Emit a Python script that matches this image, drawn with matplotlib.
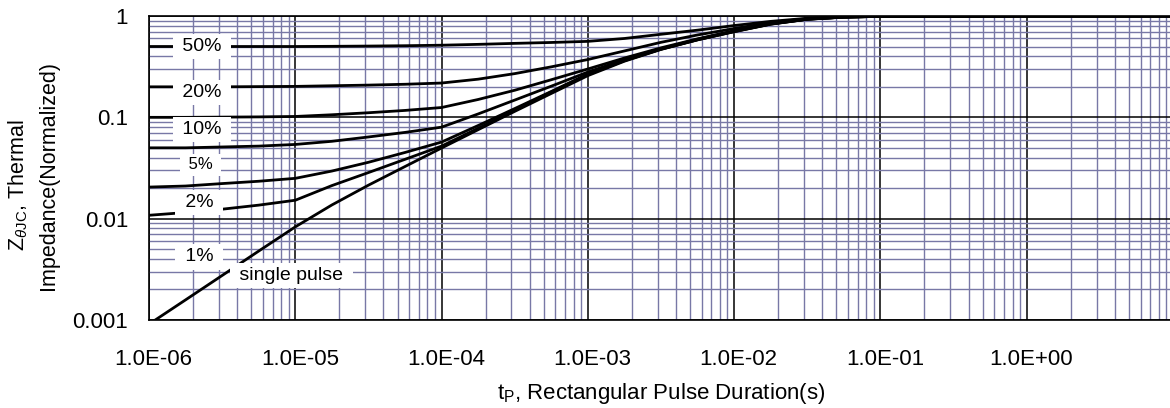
import numpy as np
import matplotlib
matplotlib.use("Agg")
import matplotlib.pyplot as plt
from matplotlib.ticker import LogLocator, FuncFormatter, FixedLocator, NullFormatter
from matplotlib.transforms import ScaledTranslation

plt.rcParams["font.family"] = ["Liberation Sans", "DejaVu Sans"]
plt.rcParams["mathtext.fontset"] = "custom"
plt.rcParams["mathtext.rm"] = "Liberation Sans"
plt.rcParams["mathtext.it"] = "Liberation Sans:italic"

# pulse duration, log10(s), read at quarter-decade steps
log_tp = [-6, -5.75, -5.5, -5.25, -5, -4.75, -4.5, -4.25, -4, -3.75, -3.5, -3.25,
          -3, -2.75, -2.5, -2.25, -2, -1.75, -1.5, -1.25, -1, 0, 1]

# normalized thermal impedance per duty cycle
z_50 = [0.500, 0.500, 0.500, 0.500, 0.500, 0.502, 0.505, 0.509, 0.515, 0.525, 0.537, 0.548,
        0.562, 0.600, 0.660, 0.725, 0.805, 0.885, 0.950, 0.985, 0.995, 1.0, 1.0]
z_20 = [0.200, 0.200, 0.200, 0.201, 0.202, 0.205, 0.208, 0.212, 0.218, 0.238, 0.270, 0.315,
        0.372, 0.452, 0.550, 0.650, 0.752, 0.862, 0.942, 0.982, 0.995, 1.0, 1.0]
z_10 = [0.100, 0.100, 0.1005, 0.101, 0.102, 0.106, 0.111, 0.117, 0.125, 0.150, 0.185, 0.235,
        0.300, 0.385, 0.485, 0.595, 0.715, 0.845, 0.935, 0.977, 0.992, 1.0, 1.0]
z_5 = [0.050, 0.050, 0.051, 0.052, 0.054, 0.058, 0.064, 0.071, 0.080, 0.108, 0.148, 0.203,
       0.280, 0.370, 0.475, 0.590, 0.710, 0.840, 0.932, 0.976, 0.992, 1.0, 1.0]
z_2 = [0.0205, 0.021, 0.0222, 0.0234, 0.0250, 0.0295, 0.036, 0.045, 0.057, 0.083, 0.122, 0.180,
       0.268, 0.365, 0.472, 0.585, 0.705, 0.835, 0.930, 0.975, 0.992, 1.0, 1.0]
z_1 = [0.0108, 0.0115, 0.0124, 0.0136, 0.0152, 0.0212, 0.0285, 0.0385, 0.052, 0.078, 0.118, 0.178,
       0.264, 0.362, 0.470, 0.582, 0.702, 0.832, 0.930, 0.975, 0.992, 1.0, 1.0]
z_single = [0.00091, 0.00158, 0.00275, 0.00479, 0.0083, 0.01365, 0.0214, 0.0327, 0.0498, 0.0755,
            0.1145, 0.172, 0.258, 0.358, 0.468, 0.582, 0.700, 0.830, 0.928, 0.975, 0.992, 1.0, 1.0]

curves = [z_50, z_20, z_10, z_5, z_2, z_1, z_single]
labels = ["50%", "20%", "10%", "5%", "2%", "1%", "single pulse"]
# label anchor (tp, Z)
label_pos = [(2.3e-6, 0.50), (2.3e-6, 0.175), (2.3e-6, 0.0762), (2.25e-6, 0.034),
             (2.2e-6, 0.0145), (2.2e-6, 0.0042), (9.4e-6, 0.00275)]

fig = plt.figure(figsize=(11.7, 4.08), dpi=100)
ax = fig.add_axes([149 / 1170, 88 / 408, 1024 / 1170, 304 / 408])

tp = 10.0 ** np.array(log_tp)
for z in curves:
    ax.plot(tp, z, color="black", lw=2.0, zorder=2)

for (x, y), txt in zip(label_pos, labels):
    size = 12 if txt == "5%" else 14
    ax.text(x, y, " " + txt + " ", fontsize=size, ha="center", va="center", zorder=4,
            bbox=dict(boxstyle="square,pad=0.22", fc="white", ec="none"))

ax.set_xscale("log")
ax.set_yscale("log")
ax.set_xlim(1e-6, 1e1)
ax.set_ylim(1e-3, 1)

ax.xaxis.set_major_locator(FixedLocator([1e-6, 1e-5, 1e-4, 1e-3, 1e-2, 1e-1, 1e0]))
ax.xaxis.set_minor_locator(LogLocator(base=10, subs=np.arange(2, 10), numticks=200))
ax.yaxis.set_major_locator(FixedLocator([1e-3, 1e-2, 1e-1, 1]))
ax.yaxis.set_minor_locator(LogLocator(base=10, subs=np.arange(2, 10), numticks=200))
ax.xaxis.set_major_formatter(FuncFormatter(lambda v, _: f"{v:.1E}"))
ax.yaxis.set_major_formatter(FuncFormatter(lambda v, _: f"{v:g}"))
ax.xaxis.set_minor_formatter(NullFormatter())
ax.yaxis.set_minor_formatter(NullFormatter())

ax.grid(which="minor", color="#7878a6", lw=1.0)
ax.grid(which="major", color="black", lw=1.1)
ax.set_axisbelow(True)
ax.tick_params(which="both", length=0, labelsize=16)
ax.tick_params(axis="x", pad=21)
ax.tick_params(axis="y", pad=15)
shift = ScaledTranslation(4.5 / 100, 0, fig.dpi_scale_trans)
for lab in ax.get_xticklabels():
    lab.set_transform(lab.get_transform() + shift)
for s in ax.spines.values():
    s.set_color("black")
    s.set_linewidth(1.2)

ax.set_xlabel(r"t$_\mathrm{P}$, Rectangular Pulse Duration(s)", fontsize=16, labelpad=8)
fig.text(18 / 1170, 1 - 185 / 408, r"Z$_{\theta\mathrm{JC}}$, Thermal", rotation=90,
         fontsize=15.5, ha="center", va="center")
fig.text(49 / 1170, 1 - 176 / 408, "Impedance(Normalized)", rotation=90,
         fontsize=15.5, ha="center", va="center")

fig.savefig("out.png", dpi=100)
